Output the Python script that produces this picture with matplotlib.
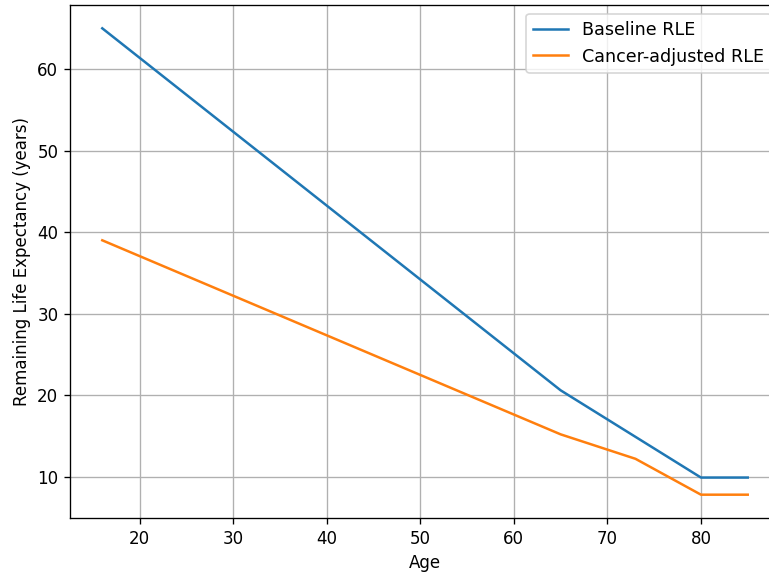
import matplotlib
matplotlib.use("Agg")
import matplotlib.pyplot as plt

# ages where the curves change slope
edad_base = [16, 65, 80, 85]
rle_base = [65.0, 20.6, 9.9, 9.9]

edad_cancer = [16, 65, 73, 80, 85]
rle_cancer = [39.0, 15.2, 12.2, 7.8, 7.8]

fig = plt.figure(figsize=(769 / 120, 573 / 120), dpi=120)
ax = fig.add_axes([70 / 769, 55 / 573, (780 - 70) / 769, 513 / 573])

ax.plot(edad_base, rle_base, label="Baseline RLE")
ax.plot(edad_cancer, rle_cancer, label="Cancer-adjusted RLE")
ax.set_xlabel("Age")
ax.set_ylabel("Remaining Life Expectancy (years)")
ax.grid(True)
ax.legend(loc="upper right", fontsize=10.5)

fig.savefig("out.png", dpi=120)
